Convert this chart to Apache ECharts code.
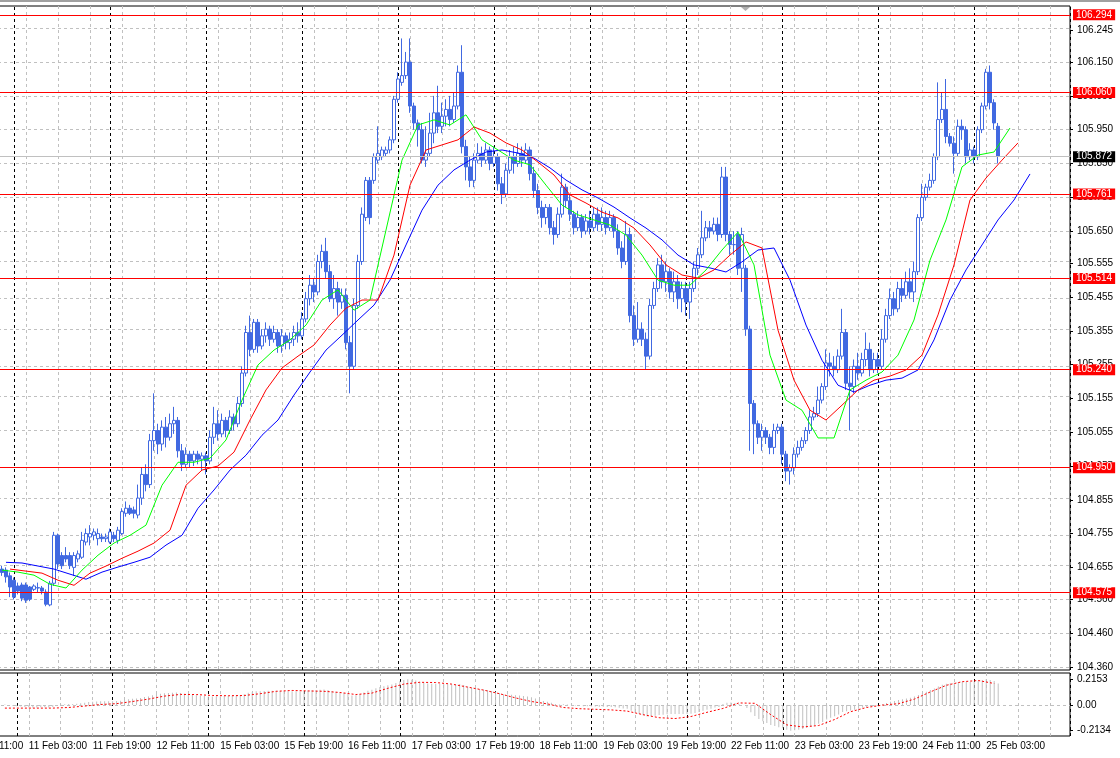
<!DOCTYPE html>
<html><head><meta charset="utf-8">
<script src="https://cdn.jsdelivr.net/npm/echarts@6/dist/echarts.min.js"></script>
<style>html,body{margin:0;padding:0;background:#fff;overflow:hidden;width:1120px;height:758px;position:relative}
#chart{position:absolute;left:-38px;top:0;width:1158px;height:758px}</style>
</head><body><div id="chart"></div>
<script>
// ---- hourly OHLC, 10 Feb 21:00 .. 25 Feb 06:00 ----
const opens = [
104.650,104.647,104.630,104.617,104.600,104.603,
104.603,104.597,104.590,104.595,104.594,104.582,104.544,104.608,104.750,104.690,104.690,104.690,104.655,104.680,104.685,104.730,
104.745,104.750,104.740,104.745,104.740,104.730,104.750,104.735,104.755,104.815,104.830,104.825,104.810,104.860,104.930,104.900,
105.030,105.060,105.020,105.070,105.040,105.080,105.090,105.000,104.960,104.990,104.970,104.990,104.975,104.985,104.970,105.040,
105.080,105.050,105.090,105.060,105.100,105.080,105.140,105.230,105.350,105.300,105.380,105.310,105.340,105.360,105.330,105.350,
105.310,105.340,105.320,105.330,105.350,105.340,105.390,105.450,105.490,105.470,105.560,105.590,105.530,105.450,105.480,105.440,
105.460,105.320,105.250,105.430,105.560,105.690,105.800,105.800,105.860,105.870,105.880,105.890,105.920,106.040,106.090,106.110,
106.150,106.020,105.970,105.950,105.860,105.880,105.940,106.000,105.960,105.990,106.010,105.980,106.020,106.120,105.900,105.840,
105.800,105.860,105.880,105.860,105.890,105.850,105.870,105.790,105.760,105.830,105.870,105.850,105.880,105.860,105.890,105.820,
105.770,105.720,105.690,105.720,105.660,105.640,105.700,105.780,105.740,105.700,105.660,105.690,105.650,105.680,105.660,105.700,
105.670,105.690,105.660,105.690,105.650,105.600,105.560,105.640,105.400,105.330,105.360,105.330,105.280,105.430,105.480,105.550,
105.500,105.530,105.470,105.500,105.450,105.480,105.440,105.480,105.540,105.580,105.630,105.660,105.650,105.670,105.640,105.810,
105.640,105.610,105.640,105.540,105.540,105.360,105.140,105.080,105.040,105.060,105.040,105.010,105.060,105.070,104.990,104.940,
104.950,104.990,105.010,105.030,105.060,105.100,105.110,105.150,105.190,105.260,105.250,105.240,105.280,105.350,105.200,105.190,
105.250,105.230,105.270,105.300,105.240,105.270,105.250,105.330,105.400,105.450,105.420,105.480,105.460,105.500,105.470,105.530,
105.690,105.750,105.780,105.800,105.870,105.980,106.010,105.930,105.910,105.880,105.960,105.950,105.870,105.890,105.870,105.950,
106.020,106.120,106.030,105.960];
const closes = [
104.640,104.627,104.597,104.567,104.585,104.564,
104.558,104.561,104.600,104.594,104.585,104.546,104.608,104.750,104.665,104.660,104.680,104.660,104.690,104.695,104.735,104.755,
104.755,104.760,104.755,104.740,104.745,104.760,104.740,104.765,104.820,104.830,104.815,104.815,104.860,104.930,104.900,105.030,
105.060,105.020,105.070,105.040,105.080,105.090,105.000,104.960,104.990,104.970,104.990,104.975,104.985,104.970,105.040,105.080,
105.050,105.090,105.060,105.100,105.080,105.140,105.230,105.350,105.300,105.380,105.310,105.340,105.360,105.330,105.350,105.310,
105.340,105.320,105.330,105.350,105.340,105.390,105.450,105.490,105.470,105.560,105.590,105.530,105.450,105.480,105.440,105.460,
105.320,105.250,105.430,105.560,105.700,105.800,105.690,105.870,105.880,105.890,105.890,105.920,106.040,106.100,106.110,106.150,
106.020,105.970,105.950,105.860,105.880,105.940,106.000,105.960,105.990,106.010,105.980,106.020,106.120,105.900,105.840,105.800,
105.860,105.880,105.860,105.890,105.850,105.870,105.790,105.760,105.830,105.870,105.850,105.880,105.860,105.890,105.820,105.770,
105.720,105.690,105.720,105.660,105.640,105.700,105.780,105.740,105.700,105.660,105.690,105.650,105.680,105.660,105.700,105.670,
105.690,105.660,105.690,105.650,105.600,105.560,105.640,105.400,105.330,105.360,105.330,105.280,105.430,105.480,105.550,105.500,
105.530,105.470,105.500,105.450,105.480,105.440,105.480,105.540,105.580,105.630,105.660,105.650,105.670,105.640,105.810,105.640,
105.610,105.610,105.540,105.640,105.360,105.140,105.080,105.040,105.060,105.040,105.010,105.060,105.070,104.990,104.940,104.950,
104.990,105.010,105.030,105.060,105.100,105.110,105.150,105.190,105.260,105.250,105.240,105.280,105.350,105.200,105.190,105.250,
105.230,105.270,105.300,105.240,105.270,105.250,105.330,105.400,105.450,105.420,105.480,105.460,105.500,105.470,105.530,105.690,
105.750,105.780,105.800,105.870,105.980,106.010,105.930,105.910,105.880,105.960,105.950,105.870,105.890,105.870,105.950,106.020,
106.120,106.030,105.970,105.872];
const lows = [
104.630,104.610,104.567,104.560,104.575,104.555,
104.550,104.555,104.585,104.580,104.575,104.540,104.540,104.600,104.650,104.650,104.670,104.650,104.630,104.670,104.680,104.720,
104.720,104.735,104.720,104.730,104.730,104.725,104.730,104.725,104.750,104.805,104.810,104.800,104.800,104.840,104.880,104.890,
105.000,104.990,105.000,105.010,105.030,105.050,104.980,104.940,104.950,104.950,104.955,104.960,104.940,104.930,104.960,105.020,
105.030,105.040,105.040,105.050,105.060,105.070,105.130,105.220,105.280,105.290,105.290,105.300,105.320,105.310,105.320,105.290,
105.290,105.300,105.300,105.310,105.320,105.330,105.380,105.430,105.440,105.460,105.540,105.510,105.440,105.420,105.400,105.420,
105.300,105.170,105.240,105.420,105.550,105.680,105.670,105.790,105.850,105.860,105.870,105.880,105.910,106.030,106.080,106.100,
106.000,105.950,105.900,105.850,105.840,105.870,105.910,105.940,105.940,105.960,105.960,105.970,106.010,105.880,105.800,105.780,
105.780,105.850,105.840,105.850,105.830,105.840,105.770,105.730,105.750,105.820,105.820,105.840,105.840,105.850,105.800,105.750,
105.700,105.660,105.670,105.640,105.610,105.630,105.690,105.720,105.680,105.640,105.650,105.630,105.640,105.640,105.650,105.650,
105.650,105.640,105.650,105.630,105.580,105.540,105.550,105.380,105.310,105.320,105.310,105.240,105.270,105.420,105.470,105.480,
105.470,105.450,105.440,105.420,105.410,105.400,105.390,105.470,105.520,105.570,105.620,105.630,105.640,105.620,105.630,105.620,
105.580,105.580,105.520,105.470,105.340,105.000,104.990,105.020,105.000,105.020,104.990,104.990,105.050,104.960,104.910,104.900,
104.930,104.980,105.000,105.020,105.050,105.090,105.100,105.140,105.180,105.220,105.220,105.230,105.270,105.180,105.060,105.170,
105.210,105.220,105.250,105.220,105.230,105.230,105.240,105.320,105.390,105.400,105.410,105.440,105.450,105.450,105.440,105.520,
105.680,105.740,105.770,105.790,105.860,105.970,105.910,105.900,105.820,105.870,105.920,105.850,105.860,105.850,105.860,105.940,
106.010,106.010,105.950,105.850];
const highs = [
104.660,104.655,104.640,104.625,104.610,104.610,
104.610,104.600,104.605,104.610,104.600,104.590,104.615,104.760,104.755,104.700,104.715,104.700,104.700,104.705,104.760,104.770,
104.780,104.770,104.770,104.755,104.755,104.770,104.760,104.775,104.830,104.850,104.840,104.835,104.900,104.950,104.960,105.050,
105.170,105.080,105.090,105.100,105.110,105.130,105.100,105.020,105.010,105.000,105.000,105.000,104.995,104.995,105.060,105.130,
105.120,105.110,105.100,105.120,105.110,105.160,105.250,105.370,105.400,105.390,105.390,105.360,105.380,105.370,105.370,105.360,
105.360,105.350,105.350,105.370,105.380,105.410,105.470,105.520,105.510,105.580,105.610,105.630,105.550,105.520,105.500,105.480,
105.480,105.340,105.450,105.580,105.720,105.810,105.810,105.880,105.960,105.900,105.900,105.930,106.050,106.120,106.220,106.180,
106.220,106.030,105.980,105.970,105.960,106.000,106.050,106.080,106.030,106.040,106.050,106.060,106.140,106.200,105.920,105.870,
105.880,105.910,105.900,105.910,105.900,105.900,105.880,105.810,105.850,105.890,105.900,105.910,105.900,105.910,105.900,105.840,
105.790,105.740,105.730,105.730,105.680,105.720,105.820,105.790,105.760,105.710,105.710,105.700,105.700,105.710,105.720,105.720,
105.720,105.710,105.710,105.700,105.670,105.620,105.680,105.660,105.430,105.440,105.380,105.350,105.450,105.500,105.570,105.580,
105.560,105.540,105.530,105.520,105.500,105.500,105.500,105.560,105.600,105.710,105.680,105.680,105.690,105.690,105.840,105.840,
105.650,105.650,105.650,105.660,105.550,105.370,105.150,105.090,105.080,105.070,105.050,105.080,105.080,105.080,105.000,104.960,
105.010,105.030,105.040,105.070,105.120,105.130,105.190,105.200,105.300,105.290,105.280,105.300,105.420,105.360,105.250,105.270,
105.290,105.290,105.350,105.320,105.290,105.290,105.360,105.420,105.480,105.470,105.500,105.510,105.530,105.540,105.560,105.700,
105.790,105.790,105.820,105.880,106.090,106.060,106.100,105.940,105.930,105.980,105.980,105.960,105.910,105.900,105.960,106.030,
106.130,106.140,106.040,105.970];

// ---- Alligator lines, read every 4 bars (lips from bar 0, teeth from bar 2, jaw from bar 1) ----
const lips = [104.647,104.641,104.632,104.605,104.594,104.647,104.691,104.727,104.750,104.780,
104.898,104.966,104.966,104.978,105.032,105.150,105.254,105.298,105.328,105.372,
105.446,105.476,105.416,105.446,105.653,105.860,105.964,105.979,105.964,105.994,
105.920,105.890,105.860,105.846,105.786,105.727,105.698,105.683,105.668,105.638,
105.579,105.505,105.490,105.490,105.535,105.594,105.647,105.550,105.283,105.150,
105.120,105.038,105.038,105.180,105.209,105.233,105.283,105.387,105.564,105.683,
105.840,105.875,105.884,105.955];
const teeth = [104.650,104.644,104.638,104.617,104.602,104.638,104.659,104.682,104.703,104.727,
104.765,104.898,104.943,104.955,104.996,105.091,105.180,105.245,105.280,105.313,
105.372,105.422,105.446,105.446,105.579,105.786,105.890,105.905,105.920,105.958,
105.940,105.911,105.890,105.854,105.816,105.757,105.733,105.706,105.689,105.659,
105.609,105.550,105.520,105.511,105.535,105.579,105.618,105.600,105.357,105.209,
105.120,105.091,105.135,105.180,105.209,105.221,105.239,105.283,105.402,105.550,
105.742,105.807,105.860,105.911];
const jaw = [104.670,104.668,104.659,104.650,104.635,104.620,104.641,104.656,104.670,104.685,
104.721,104.750,104.830,104.884,104.943,104.987,105.046,105.091,105.165,105.233,
105.298,105.342,105.387,105.431,105.505,105.609,105.712,105.786,105.831,105.860,
105.884,105.890,105.881,105.866,105.837,105.801,105.772,105.748,105.721,105.689,
105.659,105.624,105.579,105.550,105.541,105.529,105.559,105.594,105.600,105.505,
105.372,105.268,105.194,105.174,105.194,105.209,105.215,105.239,105.328,105.446,
105.535,105.609,105.683,105.742,105.819];

// ---- MACD (histogram per bar, signal every 4 bars) ----
const macdMain = [
0.005,0.000,-0.005,-0.010,-0.012,-0.015,
-0.018,-0.020,-0.020,-0.018,-0.018,-0.020,-0.015,0.000,0.005,0.008,0.010,0.010,0.012,0.015,0.020,0.025,
0.028,0.030,0.032,0.032,0.033,0.033,0.034,0.036,0.042,0.048,0.052,0.055,0.060,0.068,0.072,0.082,
0.092,0.095,0.098,0.100,0.102,0.104,0.100,0.094,0.090,0.086,0.082,0.078,0.075,0.072,0.072,0.074,
0.074,0.075,0.076,0.078,0.078,0.082,0.090,0.102,0.108,0.115,0.116,0.118,0.120,0.120,0.120,0.118,
0.118,0.116,0.115,0.115,0.114,0.116,0.120,0.124,0.124,0.128,0.130,0.126,0.118,0.112,0.105,0.100,
0.092,0.080,0.082,0.092,0.105,0.120,0.128,0.140,0.150,0.158,0.165,0.172,0.185,0.198,0.210,0.215,
0.212,0.205,0.195,0.185,0.180,0.178,0.178,0.176,0.175,0.174,0.172,0.172,0.175,0.168,0.155,0.145,
0.140,0.135,0.130,0.125,0.118,0.112,0.100,0.090,0.088,0.086,0.082,0.080,0.076,0.072,0.065,0.055,
0.045,0.035,0.028,0.020,0.010,0.006,0.008,0.006,0.002,-0.004,-0.006,-0.010,-0.010,-0.012,-0.012,-0.014,
-0.014,-0.015,-0.016,-0.018,-0.022,-0.028,-0.030,-0.048,-0.065,-0.075,-0.085,-0.095,-0.092,-0.088,-0.082,-0.080,
-0.076,-0.075,-0.074,-0.075,-0.074,-0.074,-0.072,-0.066,-0.058,-0.048,-0.038,-0.030,-0.020,-0.015,0.010,0.020,
0.022,0.018,0.010,0.000,-0.025,-0.060,-0.090,-0.115,-0.135,-0.150,-0.165,-0.175,-0.185,-0.192,-0.205,-0.213,
-0.210,-0.205,-0.200,-0.190,-0.180,-0.168,-0.155,-0.140,-0.120,-0.105,-0.092,-0.078,-0.058,-0.052,-0.046,-0.038,
-0.030,-0.022,-0.015,-0.010,-0.004,0.000,0.008,0.018,0.028,0.034,0.042,0.048,0.056,0.062,0.072,0.085,
0.100,0.112,0.125,0.138,0.155,0.170,0.178,0.182,0.186,0.192,0.195,0.194,0.193,0.196,0.200,0.208,
0.215,0.210,0.200,0.180];
const macdSignal = [-0.025,-0.025,-0.025,-0.025,-0.020,-0.008,0.005,0.012,0.030,0.050,
0.075,0.089,0.088,0.080,0.078,0.080,0.095,0.115,0.122,0.118,
0.115,0.105,0.088,0.100,0.140,0.175,0.190,0.188,0.175,0.150,
0.125,0.095,0.060,0.030,0.010,-0.020,-0.030,-0.035,-0.040,-0.050,
-0.080,-0.105,-0.112,-0.095,-0.060,-0.028,0.018,0.015,-0.080,-0.165,
-0.182,-0.170,-0.120,-0.055,-0.020,0.000,0.012,0.050,0.110,0.165,
0.195,0.205,0.180];

// ---- levels and scale labels ----
const redLevels = [106.294, 106.060, 105.761, 105.514, 105.240, 104.950, 104.575];
const lastPrice = 105.872;
const priceTicks = [106.245,106.150,106.050,105.950,105.850,105.750,105.650,105.555,105.455,105.355,
105.255,105.155,105.055,104.955,104.855,104.755,104.655,104.560,104.460,104.360];
const macdTicks = [0.2153, 0.00, -0.2134];

// ---- time axis ----
const MONTHS = ['Jan','Feb','Mar','Apr','May','Jun','Jul','Aug','Sep','Oct','Nov','Dec'];
const AXIS_START = Date.UTC(2021, 1, 10, 11);   // 10 Feb 11:00
const NCAT = 278, FIRST = 10;                      // first candle: 10 Feb 21:00
const LAST_LABEL = 256;                            // 25 Feb 03:00
const cats = [];
for (let t = AXIS_START; cats.length < NCAT; t += 3600000) {
  const d = new Date(t), wd = d.getUTCDay();
  if (wd === 0 || wd === 6) continue;
  const h = d.getUTCHours();
  cats.push(d.getUTCDate() + ' ' + MONTHS[d.getUTCMonth()] + ' ' + (h < 10 ? '0' : '') + h + ':00');
}
const dayStarts = [];
cats.forEach((c, i) => { if (c.endsWith(' 00:00')) dayStarts.push(i); });

const candleData = opens.map((o, k) => [FIRST + k, o, closes[k], lows[k], highs[k]]);
const lineData = (arr, start) => arr.map((v, k) => [start + 4 * k, v]);
const histData = macdMain.map((v, k) => [FIRST + k, v]);

const FONT = 'Liberation Sans';
const BLUE = '#4169E1';
const gridDash = {color: '#c0c0c0', type: [3, 3], width: 1};
const daySep = dayStarts.map(i => ({xAxis: i, lineStyle: {color: '#000', type: [3, 3], width: 1}}));

const chart = echarts.init(document.getElementById('chart'), null, {renderer: 'canvas'});
chart.setOption({
  animation: false,
  backgroundColor: '#fff',
  textStyle: {fontFamily: FONT},
  grid: [
    {left: 0, width: 1108, top: 6, height: 664, show: true, borderColor: '#000', borderWidth: 1, backgroundColor: 'transparent'},
    {left: 0, width: 1108, top: 673, height: 63, show: true, borderColor: '#000', borderWidth: 1, backgroundColor: 'transparent'}
  ],
  xAxis: [
    {type: 'category', gridIndex: 0, data: cats, boundaryGap: false,
     axisLine: {show: false}, axisTick: {show: false}, axisLabel: {show: false},
     splitLine: {show: true, interval: (i) => i % 8 === 0, lineStyle: gridDash}},
    {type: 'category', gridIndex: 1, data: cats, boundaryGap: false,
     axisLine: {show: false}, axisTick: {show: false},
     axisLabel: {show: true, interval: (i) => i % 16 === 0 && i <= LAST_LABEL, align: 'left',
                 margin: 5, color: '#000', fontSize: 10, fontFamily: FONT},
     splitLine: {show: true, interval: (i) => i % 8 === 0, lineStyle: gridDash}}
  ],
  yAxis: [
    {type: 'value', gridIndex: 0, position: 'right', min: 104.3514, max: 106.316,
     axisLine: {show: false}, splitLine: {show: false},
     axisTick: {show: true, length: 3, customValues: priceTicks, lineStyle: {color: '#000'}},
     axisLabel: {show: true, customValues: priceTicks, formatter: v => v.toFixed(3), margin: 7,
                 color: '#000', fontSize: 10, fontFamily: FONT}},
    {type: 'value', gridIndex: 1, position: 'right', min: -0.2575, max: 0.2675,
     axisLine: {show: false}, splitLine: {show: false},
     axisTick: {show: true, length: 3, customValues: macdTicks, lineStyle: {color: '#000'}},
     axisLabel: {show: true, customValues: macdTicks, formatter: v => (v === 0 ? '0.00' : v.toFixed(4)), margin: 7,
                 color: '#000', fontSize: 10, fontFamily: FONT}}
  ],
  series: [
    {type: 'candlestick', name: 'price', xAxisIndex: 0, yAxisIndex: 0, z: 2,
     data: candleData, encode: {x: 0, y: [1, 2, 3, 4]}, barWidth: 3,
     itemStyle: {color: '#ffffff', color0: BLUE, borderColor: BLUE, borderColor0: BLUE, borderWidth: 1},
     emphasis: {disabled: true}, silent: true,
     markLine: {z: 1, silent: true, symbol: ['none', 'none'], label: {show: false}, emphasis: {disabled: true},
       data: priceTicks.map(v => ({yAxis: v, lineStyle: gridDash})).concat(daySep)}},
    {type: 'line', name: 'jaw', xAxisIndex: 0, yAxisIndex: 0, z: 3, symbol: 'none', silent: true,
     data: lineData(jaw, FIRST + 1), lineStyle: {color: '#0000ff', width: 1}},
    {type: 'line', name: 'teeth', xAxisIndex: 0, yAxisIndex: 0, z: 3, symbol: 'none', silent: true,
     data: lineData(teeth, FIRST + 2), lineStyle: {color: '#ff0000', width: 1}},
    {type: 'line', name: 'lips', xAxisIndex: 0, yAxisIndex: 0, z: 3, symbol: 'none', silent: true,
     data: lineData(lips, FIRST), lineStyle: {color: '#00ff00', width: 1},
     markLine: {z: 6, silent: true, symbol: ['none', 'none'], emphasis: {disabled: true},
       data: [{yAxis: lastPrice, lineStyle: {color: '#c0c0c0', type: 'solid', width: 1},
               label: {show: true, position: 'end', distance: 3, formatter: lastPrice.toFixed(3), color: '#fff',
                       backgroundColor: '#000', padding: [1, 3, 0, 3], fontSize: 10, fontFamily: FONT}}]
         .concat(redLevels.map(v => ({yAxis: v, lineStyle: {color: '#ff0000', type: 'solid', width: 1},
               label: {show: true, position: 'end', distance: 3, formatter: v.toFixed(3), color: '#fff',
                       backgroundColor: '#ff0000', padding: [1, 3, 0, 3], fontSize: 10, fontFamily: FONT}})))}},
    {type: 'bar', name: 'macd', xAxisIndex: 1, yAxisIndex: 1, z: 2, barWidth: 1, silent: true,
     data: histData, itemStyle: {color: '#c0c0c0'},
     markLine: {z: 1, silent: true, symbol: ['none', 'none'], label: {show: false}, emphasis: {disabled: true},
       data: [{yAxis: 0, lineStyle: gridDash}].concat(daySep)}},
    {type: 'line', name: 'signal', xAxisIndex: 1, yAxisIndex: 1, z: 3, symbol: 'none', silent: true,
     data: lineData(macdSignal, FIRST), lineStyle: {color: '#ff0000', width: 1, type: [2, 2]}}
  ],
  graphic: [
    {type: 'rect', shape: {x: 38, y: 0, width: 1120, height: 2}, style: {fill: '#a0a0a0'}, silent: true},
    {type: 'polygon', shape: {points: [[779, 7], [788, 7], [783.5, 11]]}, style: {fill: '#b0b0b0'}, silent: true}
  ]
});
</script></body></html>
